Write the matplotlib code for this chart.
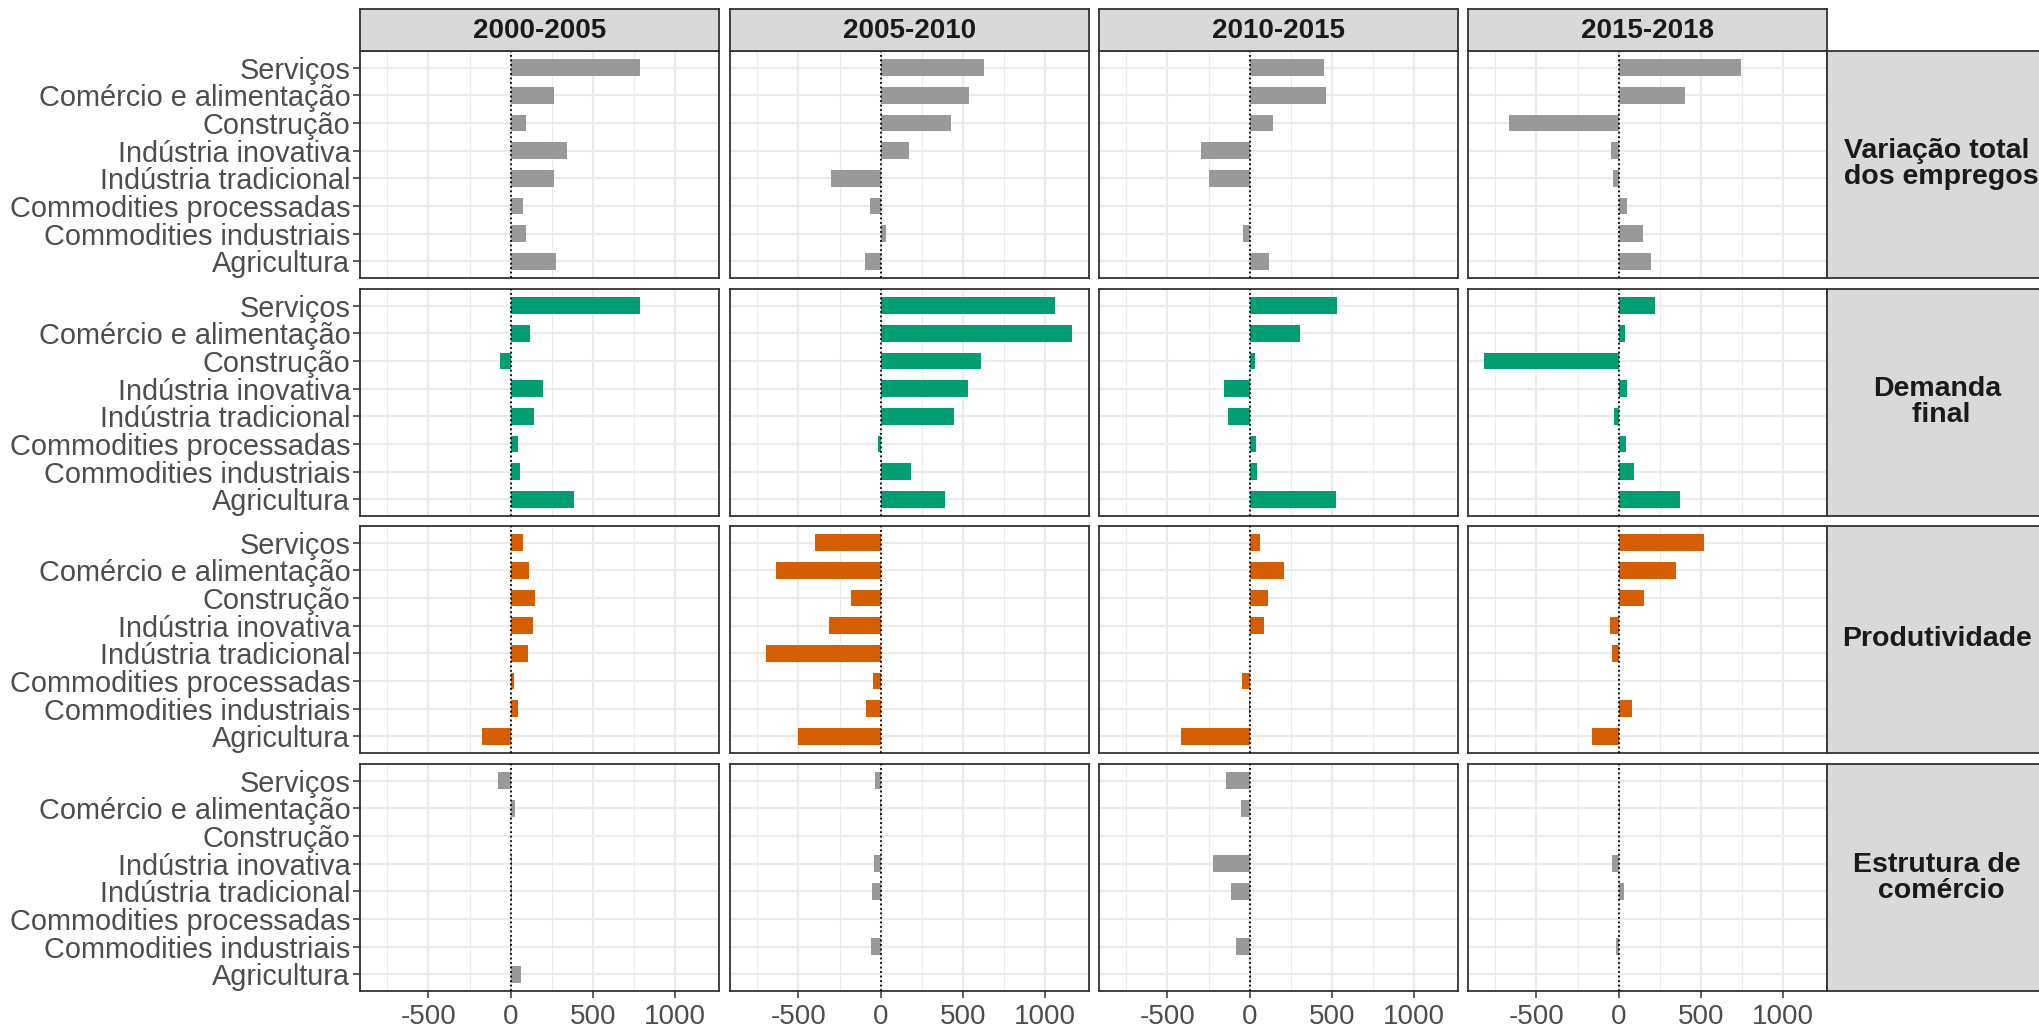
import numpy as np
import matplotlib.pyplot as plt

plt.rcParams['font.family'] = ['Liberation Sans', 'DejaVu Sans']
plt.rcParams['axes.unicode_minus'] = False

setores = ['Serviços', 'Comércio e alimentação', 'Construção', 'Indústria inovativa',
           'Indústria tradicional', 'Commodities processadas', 'Commodities industriais',
           'Agricultura']
periodos = ['2000-2005', '2005-2010', '2010-2015', '2015-2018']
componentes = ['Variação total\n dos empregos', 'Demanda\n final', 'Produtividade',
               'Estrutura de\n comércio']

# one list per period, sectors in the order above
variacao_total = [[785, 263, 90, 341, 266, 75, 90, 277],
                  [627, 538, 428, 173, -303, -66, 35, -98],
                  [454, 463, 141, -296, -247, 0, -40, 118],
                  [744, 405, -664, -46, -34, 49, 149, 198]]
demanda_final = [[785, 118, -64, 194, 142, 43, 58, 382],
                 [1058, 1160, 610, 532, 445, -14, 182, 393],
                 [532, 305, 34, -158, -129, 40, 43, 523],
                 [218, 37, -816, 49, -26, 46, 92, 371]]
produtividade = [[75, 110, 150, 133, 107, 23, 43, -176],
                 [-396, -633, -182, -315, -699, -46, -92, -500],
                 [60, 210, 112, 89, 0, -46, -3, -417],
                 [517, 351, 155, -52, -43, 0, 80, -161]]
estrutura = [[-75, 26, 0, 5, 10, 0, -3, 64],
             [-35, -2, 0, -40, -55, 0, -60, 0],
             [-144, -52, 0, -224, -115, 0, -86, 5],
             [3, 8, 0, -43, 34, 0, -17, 0]]

dados = [variacao_total, demanda_final, produtividade, estrutura]
cores = ['#999999', '#009E73', '#D55E00', '#999999']

W, H = 2040, 1030
fig = plt.figure(figsize=(W / 100, H / 100), dpi=100)

col_x = [360, 730, 1099, 1468]
row_y = [51, 289, 526, 764]
pw, ph = 359, 227
ypos = np.arange(len(setores))[::-1]

def box(x0, y0, w, h):
    return [x0 / W, 1 - (y0 + h) / H, w / W, h / H]

for i, comp in enumerate(componentes):
    for j, per in enumerate(periodos):
        ax = fig.add_axes(box(col_x[j], row_y[i], pw, ph))
        ax.barh(ypos, dados[i][j], height=0.6, color=cores[i], zorder=2)
        ax.axvline(0, color='black', linestyle=(0, (1, 1.5)), lw=1.3, zorder=3)
        ax.set_xlim(-915, 1265)
        ax.set_ylim(-0.6, 7.6)
        ax.set_xticks([-500, 0, 500, 1000])
        ax.set_xticks([-750, -250, 250, 750], minor=True)
        ax.set_yticks(ypos)
        ax.set_yticklabels(setores)
        ax.grid(which='major', color='#EBEBEB', lw=1.6, zorder=0)
        ax.grid(which='minor', axis='x', color='#EBEBEB', lw=0.8, zorder=0)
        ax.set_axisbelow(True)
        for s in ax.spines.values():
            s.set_color('#333333')
            s.set_linewidth(1.3)
        ax.tick_params(which='minor', length=0)
        ax.tick_params(which='major', length=5, width=1.1, color='#333333',
                       labelcolor='#4D4D4D', pad=2)
        ax.tick_params(axis='y', labelsize=20.8)
        ax.tick_params(axis='x', labelsize=20, pad=4)
        if j != 0:
            ax.tick_params(left=False, labelleft=False)
        if i != 3:
            ax.tick_params(bottom=False, labelbottom=False)

# strips on top (periods)
for j, per in enumerate(periodos):
    sx = fig.add_axes(box(col_x[j], 9, pw, 42))
    sx.set_facecolor('#D9D9D9')
    sx.set_xticks([])
    sx.set_yticks([])
    for s in sx.spines.values():
        s.set_color('#333333')
        s.set_linewidth(1.3)
    sx.text(0.5, 0.48, per, ha='center', va='center', fontsize=20,
            fontweight='bold', color='#1A1A1A', transform=sx.transAxes)

# strips on the right (components)
for i, comp in enumerate(componentes):
    sx = fig.add_axes(box(1827, row_y[i], 230, ph))
    sx.set_facecolor('#D9D9D9')
    sx.set_xticks([])
    sx.set_yticks([])
    for s in sx.spines.values():
        s.set_color('#333333')
        s.set_linewidth(1.3)
    fig.text(1937 / W, 1 - (row_y[i] + ph / 2) / H, comp, ha='center', va='center',
             fontsize=20.5, fontweight='bold', color='#1A1A1A', multialignment='center',
             linespacing=1.0)

fig.savefig('out.png', dpi=100)
